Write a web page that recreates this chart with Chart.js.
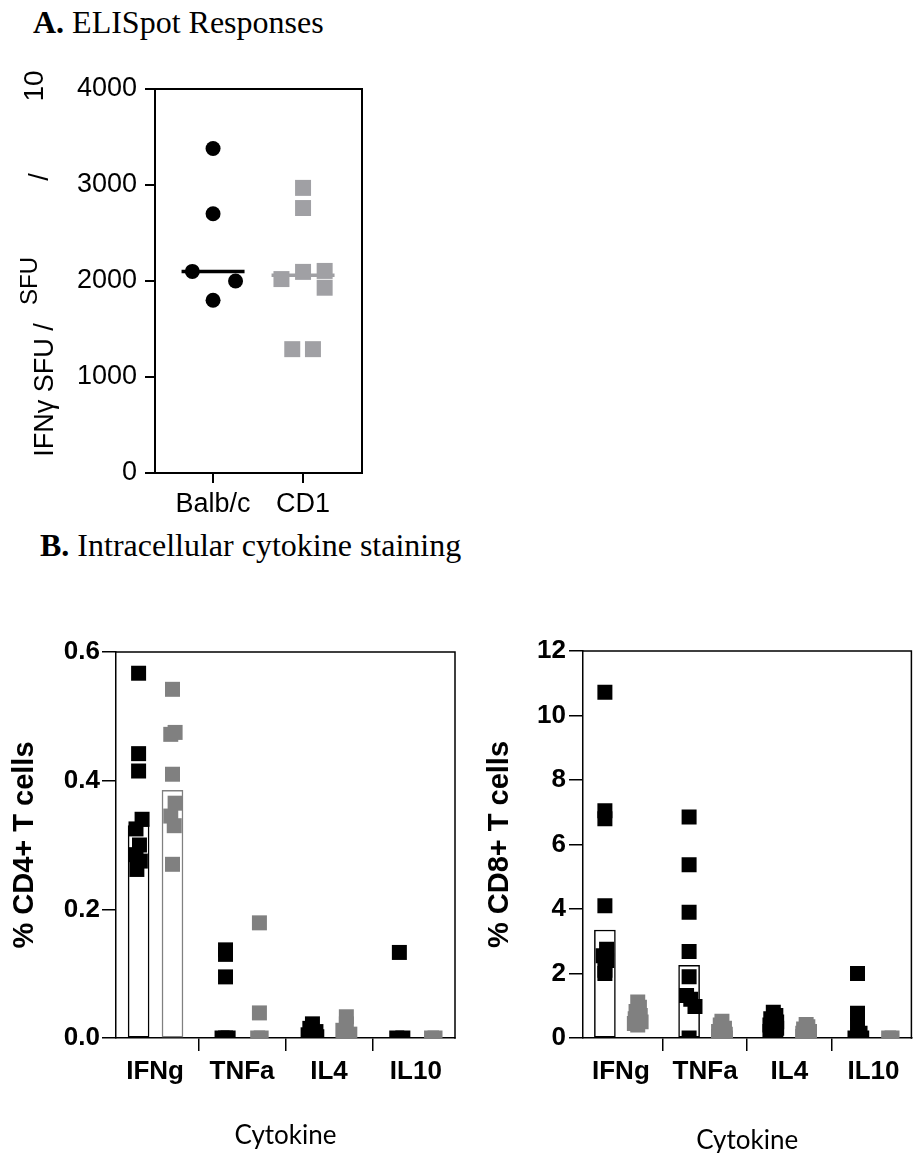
<!DOCTYPE html>
<html><head><meta charset="utf-8">
<script src="https://cdn.jsdelivr.net/npm/chart.js@4.4.1/dist/chart.umd.min.js"></script>
<style>
html,body{margin:0;padding:0;background:#fff;}
#wrap{position:relative;width:922px;height:1153px;overflow:hidden;background:#fff;}
canvas{position:absolute;}
.ttl{position:absolute;font-family:"Liberation Serif","Times New Roman",serif;font-size:32px;color:#000;white-space:nowrap;line-height:1;}
</style></head><body>
<div id="wrap">
<div class="ttl" style="left:33px;top:6px;"><b>A.</b> ELISpot Responses</div>
<div class="ttl" style="left:40px;top:529px;"><b>B.</b> Intracellular cytokine staining</div>
<canvas id="cA" width="400" height="530" style="left:0px;top:0px;width:400px;height:530px;"></canvas>
<canvas id="cB4" width="470" height="540" style="left:0px;top:620px;width:470px;height:540px;"></canvas>
<canvas id="cB8" width="452" height="540" style="left:470px;top:620px;width:452px;height:540px;"></canvas>
</div>
<script>
// ---------- Panel A data ----------
const groupsA = ['Balb/c', 'CD1'];
const balbSFU = [3380, 2700, 2100, 2000, 1800];
const balbJitter = [0, 0, -0.23, 0.25, 0];
const cd1SFU = [2970, 2760, 2020, 2095, 2105, 1930, 1290, 1290];
const cd1Jitter = [0, 0, -0.24, 0, 0.24, 0.24, -0.12, 0.11];
const medianA = [2100, 2060];
const yTicksA = [0, 1000, 2000, 3000, 4000];

// ---------- Panel B data ----------
const cytokines = ['IFNg', 'TNFa', 'IL4', 'IL10'];
// % CD4+ T cells
const cd4Balb = [
  [0.567, 0.442, 0.415, 0.34, 0.325, 0.30, 0.285, 0.275, 0.262],
  [0.137, 0.13, 0.095, 0, 0, 0],
  [0.022, 0.015, 0.01, 0.005, 0.002, 0],
  [0.133, 0, 0]
];
const cd4BalbJitter = [
  [0, 0, 0, 0.04, -0.03, 0.01, -0.03, 0.02, -0.02],
  [0, 0, 0, -0.04, 0.03, 0],
  [0, -0.03, 0.04, -0.05, 0.05, 0],
  [0, -0.03, 0.04]
];
const cd4CD1 = [
  [0.542, 0.475, 0.472, 0.41, 0.365, 0.345, 0.33, 0.27],
  [0.179, 0.039, 0, 0],
  [0.033, 0.022, 0.012, 0.006, 0, 0],
  [0, 0]
];
const cd4CD1Jitter = [
  [0, 0.03, -0.02, 0, 0.03, -0.02, 0.02, 0],
  [0, 0, -0.02, 0.02],
  [0, 0, -0.04, 0.04, -0.03, 0.03],
  [-0.02, 0.02]
];
const cd4BalbBar = [0.33, 0, 0, 0];
const cd4CD1Bar = [0.385, 0, 0, 0];
const cd4Ticks = [0, 0.2, 0.4, 0.6];

// % CD8+ T cells
const cd8Balb = [
  [10.72, 7.05, 6.8, 4.1, 2.75, 2.55, 2.4, 2.1, 2.0],
  [6.85, 5.37, 3.9, 2.68, 1.9, 1.32, 1.2, 0.98, 0],
  [0.8, 0.7, 0.6, 0.5, 0.4, 0.3, 0.2, 0.1, 0],
  [2.0, 0.77, 0.4, 0.15, 0, 0]
];
const cd8BalbJitter = [
  [0, 0, 0, 0, 0.02, -0.02, 0.02, 0, 0],
  [0, 0, 0, 0, 0, -0.03, 0.02, 0.07, 0],
  [0, 0.03, -0.03, 0.04, -0.04, 0.04, -0.04, 0.03, 0],
  [0, 0, 0, 0.03, -0.03, 0.05]
];
const cd8CD1 = [
  [1.12, 0.95, 0.82, 0.7, 0.6, 0.5, 0.45, 0.4],
  [0.52, 0.4, 0.3, 0.2, 0.12, 0.05, 0, 0],
  [0.42, 0.35, 0.28, 0.2, 0.15, 0.1, 0.05, 0],
  [0, 0]
];
const cd8CD1Jitter = [
  [0, 0.02, -0.02, 0.03, -0.03, 0.04, -0.04, 0],
  [0, -0.02, 0.03, -0.04, 0.04, -0.04, 0.04, 0],
  [0, 0.02, -0.03, 0.04, -0.04, 0.04, -0.04, 0],
  [-0.02, 0.02]
];
const cd8BalbBar = [3.35, 2.25, 0, 0];
const cd8CD1Bar = [0, 0, 0, 0];
const cd8Ticks = [0, 2, 4, 6, 8, 10, 12];

// ---------- styling ----------
const BLACK = '#000000';
const GRAY_A = '#a0a0a4';
const GRAY_B = '#808080';
const seriesOffset = [-0.19, 0.2];
const medianHalf = 0.35;
Chart.defaults.font.family = '"Liberation Sans", Arial, sans-serif';
Chart.defaults.color = '#000';
Chart.defaults.animation = false;

const framePlugin = {
  id: 'frame',
  afterDatasetsDraw(chart, args, opts) {
    const {ctx, chartArea: {left, top, right, bottom}} = chart;
    const lw = opts.width || 2;
    ctx.save();
    ctx.strokeStyle = '#000';
    ctx.lineWidth = lw;
    ctx.beginPath();
    ctx.moveTo(left - lw / 2, top);
    ctx.lineTo(right, top);
    ctx.lineTo(right, bottom + lw / 2);
    ctx.stroke();
    ctx.restore();
  }
};

const yTitleA = {
  id: 'yTitleA',
  afterDraw(chart, args, opts) {
    const ctx = chart.ctx;
    ctx.save();
    ctx.fillStyle = '#000';
    ctx.textAlign = 'center';
    ctx.textBaseline = 'alphabetic';
    for (const p of opts.parts) {
      ctx.save();
      ctx.translate(p.x, p.y);
      ctx.rotate(-Math.PI / 2);
      ctx.font = p.size + 'px "Liberation Sans", Arial, sans-serif';
      ctx.fillText(p.text, 0, 0);
      ctx.restore();
    }
    ctx.restore();
  }
};

function axisLook(lw, tickLen) {
  return {
    border: {display: true, color: '#000', width: lw},
    grid: {display: true, drawOnChartArea: false, drawTicks: true, tickLength: tickLen,
           tickWidth: lw, tickColor: '#000', color: '#000', lineWidth: lw}
  };
}

// ---------- Panel A ----------
new Chart(document.getElementById('cA'), {
  type: 'scatter',
  data: {
    datasets: [
      {type: 'line', label: 'Balb/c median', showLine: true, order: 0,
       data: [{x: 1 - medianHalf, y: medianA[0]}, {x: 1 + medianHalf, y: medianA[0]}],
       borderColor: BLACK, borderWidth: 3.5, pointRadius: 0},
      {type: 'line', label: 'CD1 median', showLine: true, order: 0,
       data: [{x: 2 - medianHalf, y: medianA[1]}, {x: 2 + medianHalf, y: medianA[1]}],
       borderColor: GRAY_A, borderWidth: 3.5, pointRadius: 0},
      {label: groupsA[0], order: 1,
       data: balbSFU.map((v, i) => ({x: 1 + balbJitter[i], y: v})),
       pointStyle: 'circle', pointRadius: 7.5, pointHoverRadius: 7.5,
       backgroundColor: BLACK, borderColor: BLACK, borderWidth: 0},
      {label: groupsA[1], order: 1,
       data: cd1SFU.map((v, i) => ({x: 2 + cd1Jitter[i], y: v})),
       pointStyle: 'rect', pointRadius: 11.3, pointHoverRadius: 11.3,
       backgroundColor: GRAY_A, borderColor: GRAY_A, borderWidth: 0}
    ]
  },
  options: {
    responsive: false, animation: false,
    layout: {padding: {left: 0, top: 89, right: 38, bottom: 17}},
    plugins: {
      legend: {display: false}, tooltip: {enabled: false},
      frame: {width: 2},
      yTitleA: {parts: [
        {text: 'IFNγ SFU /', x: 53, y: 390, size: 27},
        {text: 'SFU', x: 37, y: 281, size: 24},
        {text: '/', x: 48, y: 177, size: 27},
        {text: '10', x: 43, y: 86, size: 28}
      ]}
    },
    scales: {
      x: Object.assign({
        type: 'linear', min: 0.355, max: 2.655, offset: false,
        afterBuildTicks: s => { s.ticks = groupsA.map((_, i) => ({value: i + 1})); },
        afterFit: s => { s.height = 40; },
        ticks: {autoSkip: false, padding: 5, font: {size: 27},
                callback: v => groupsA[Math.round(v) - 1] || ''}
      }, axisLook(2, 10)),
      y: Object.assign({
        min: 0, max: 4000,
        afterBuildTicks: s => { s.ticks = yTicksA.map(v => ({value: v})); },
        afterFit: s => { s.width = 155; },
        ticks: {padding: 8, font: {size: 27}, callback: v => String(v)}
      }, axisLook(2, 10))
    }
  },
  plugins: [framePlugin, yTitleA]
});

// ---------- Panel B ----------
function cytokineChart(id, cfg) {
  const pts = (vals, jit, k) => vals.flatMap((arr, c) =>
    arr.map((v, j) => ({x: c + 1 + seriesOffset[k] + jit[c][j], y: v})));
  const bars = (vals, k) => vals.map((v, c) => ({x: c + 1 + seriesOffset[k], y: v})).filter(p => p.y > 0);
  new Chart(document.getElementById(id), {
    type: 'scatter',
    data: {
      datasets: [
        {type: 'bar', label: 'Balb/c bar', order: 3, data: bars(cfg.barA, 0), grouped: false,
         barThickness: 21, backgroundColor: '#ffffff', borderColor: BLACK, borderWidth: 1.5, borderSkipped: false},
        {type: 'bar', label: 'CD1 bar', order: 3, data: bars(cfg.barB, 1), grouped: false,
         barThickness: 21, backgroundColor: '#ffffff', borderColor: GRAY_B, borderWidth: 1.5, borderSkipped: false},
        {label: 'CD1', order: 2, data: pts(cfg.valB, cfg.jitB, 1),
         pointStyle: 'rect', pointRadius: 10.6, pointHoverRadius: 10.6,
         backgroundColor: GRAY_B, borderColor: GRAY_B, borderWidth: 0},
        {label: 'Balb/c', order: 1, data: pts(cfg.valA, cfg.jitA, 0),
         pointStyle: 'rect', pointRadius: 10.6, pointHoverRadius: 10.6,
         backgroundColor: BLACK, borderColor: BLACK, borderWidth: 0}
      ]
    },
    options: {
      responsive: false, animation: false,
      layout: {padding: cfg.pad},
      plugins: {legend: {display: false}, tooltip: {enabled: false}, frame: {width: 1.5}},
      scales: {
        x: Object.assign({
          type: 'linear', min: 0.55, max: 4.45, offset: false,
          afterBuildTicks: s => { s.ticks = cytokines.map((_, i) => ({value: i + 1})); },
          afterFit: s => { s.height = cfg.xh; },
          ticks: {autoSkip: false, padding: 5, font: {size: 26, weight: 'bold'},
                  callback: v => cytokines[Math.round(v) - 1] || ''},
          title: {display: true, text: 'Cytokine', padding: {top: 0, bottom: 0},
                  font: {family: 'Lato, "Open Sans", sans-serif', size: 26, weight: 'normal'}}
        }, axisLook(1.5, 13)),
        y: Object.assign({
          min: 0, max: cfg.ticks[cfg.ticks.length - 1],
          afterBuildTicks: s => { s.ticks = cfg.ticks.map(v => ({value: v})); },
          afterFit: s => { s.width = cfg.yw; },
          ticks: {padding: cfg.tpad, font: {size: 26, weight: 'bold'}, callback: cfg.fmt},
          title: {display: true, text: cfg.ytitle, padding: {top: cfg.ytPad, bottom: 0},
                  font: {size: 29, weight: 'bold'}}
        }, axisLook(1.5, 14))
      }
    },
    plugins: [framePlugin]
  });
}

cytokineChart('cB4', {
  valA: cd4Balb, jitA: cd4BalbJitter, valB: cd4CD1, jitB: cd4CD1Jitter,
  barA: cd4BalbBar, barB: cd4CD1Bar, ticks: cd4Ticks, fmt: v => Number(v).toFixed(1),
  ytitle: '% CD4+ T cells', ytPad: 8, yw: 116, tpad: 2, xh: 113,
  pad: {left: 0, top: 32, right: 15, bottom: 9}
});
cytokineChart('cB8', {
  valA: cd8Balb, jitA: cd8BalbJitter, valB: cd8CD1, jitB: cd8CD1Jitter,
  barA: cd8BalbBar, barB: cd8CD1Bar, ticks: cd8Ticks, fmt: v => String(v),
  ytitle: '% CD8+ T cells', ytPad: 13, yw: 113, tpad: 3, xh: 118,
  pad: {left: 0, top: 31, right: 1, bottom: 4}
});
</script>
</body></html>
